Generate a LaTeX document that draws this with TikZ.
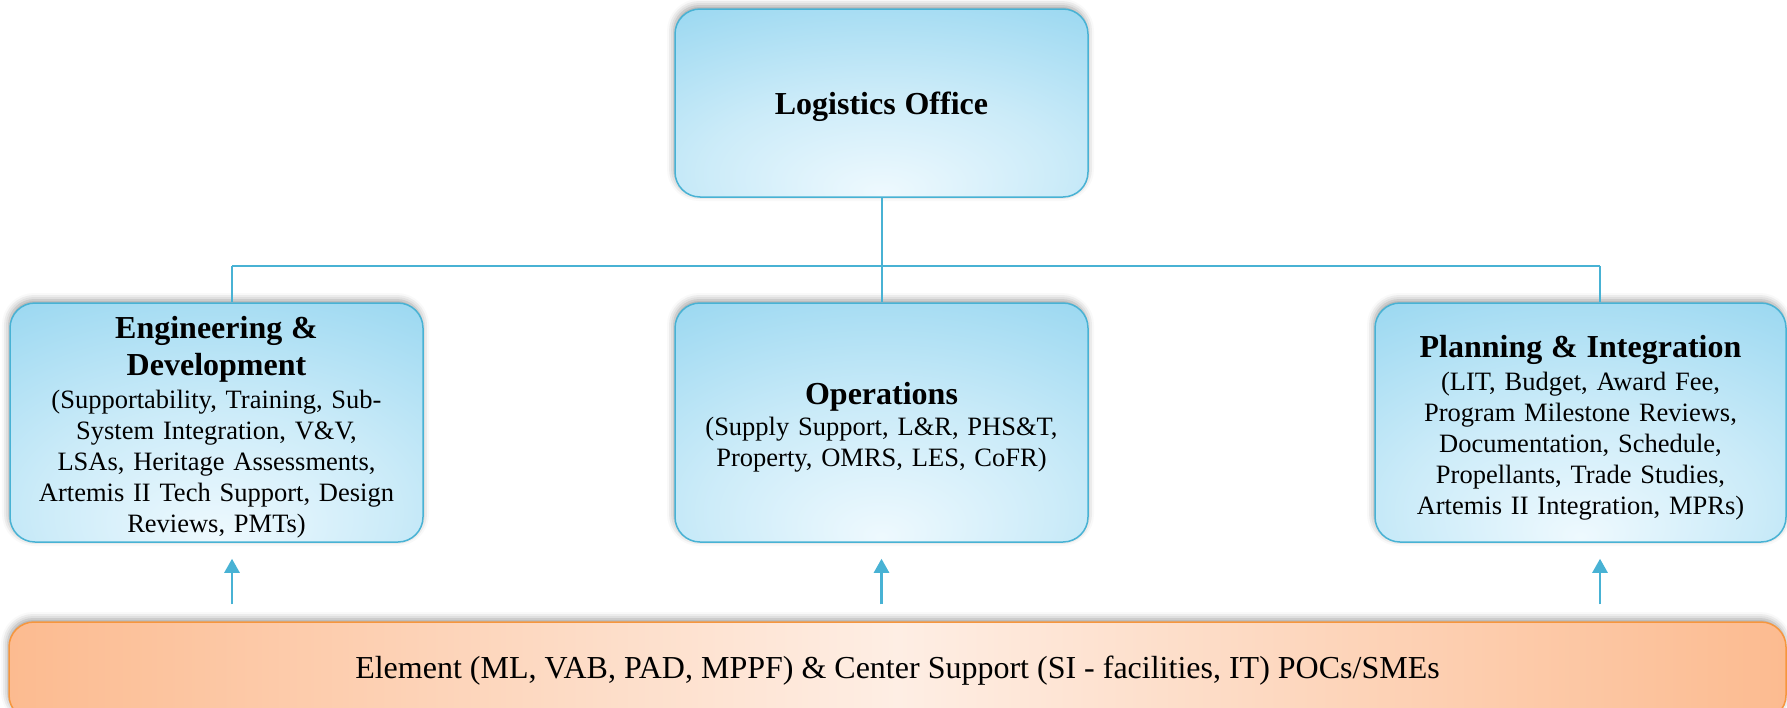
\documentclass[tikz,border=0pt]{standalone}
\usepackage{fontspec}
\setmainfont{Liberation Serif}
\usetikzlibrary{arrows.meta,shadows.blur}

\definecolor{boxout}{RGB}{150,214,240}
\definecolor{boxin}{RGB}{238,249,254}
\definecolor{boxline}{RGB}{72,178,212}
\definecolor{barout}{RGB}{252,187,144}
\definecolor{barin}{RGB}{254,238,228}
\definecolor{barline}{RGB}{246,150,62}

\pgfdeclareradialshading{boxglow}{\pgfpoint{0bp}{-24bp}}{color(0bp)=(boxin); color(22bp)=(boxin!60!boxout); color(48bp)=(boxout); color(100bp)=(boxout)}
\newcommand\headfont{\fontsize{32}{37}\selectfont\bfseries}

\tikzset{
  box/.style={draw=boxline, line width=1.5pt, rounded corners=25pt, shading=boxglow,
    minimum width=413pt, minimum height=239pt, inner sep=0pt, text width=400pt, align=center,
    font=\fontsize{26.5}{31}\selectfont, execute at end node={\par\vspace{-10pt}},
    blur shadow={shadow xshift=-1pt, shadow yshift=3pt, shadow blur radius=7pt, shadow opacity=40}},
  bar/.style={draw=barline, line width=1.5pt, rounded corners=25pt,
    left color=barout, right color=barout, middle color=barin,
    minimum width=1777pt, minimum height=98pt, inner sep=0pt,
    font=\fontsize{32}{38}\selectfont,
    blur shadow={shadow xshift=-1pt, shadow yshift=3pt, shadow blur radius=7pt, shadow opacity=40}},
  link/.style={draw=boxline, line width=2pt},
  feed/.style={draw=boxline, line width=2.5pt, -{Triangle[width=15pt,length=14pt]}}
}

\begin{document}
\begin{tikzpicture}[x=1pt, y=-1pt]
  %%%%% START %%%%%
  \useasboundingbox (0,0) rectangle (1787,707);
  \clip (0,0) rectangle (1787,707);

  \node[box, minimum height=188pt] (office) at (881.5,103) {\headfont Logistics Office};

  \node[box] (eng) at (216.5,422.5) {{\headfont Engineering \&\\ Development\par}\vspace{2pt}
    (Supportability, Training, Sub-\\ System Integration, V\&V,\\ LSAs, Heritage Assessments,\\
    Artemis II Tech Support, Design\\ Reviews, PMTs)};
  \node[box] (ops) at (881.5,422.5) {{\headfont Operations\par}
    (Supply Support, L\&R, PHS\&T,\\ Property, OMRS, LES, CoFR)};
  \node[box, minimum width=411pt] (plan) at (1580.5,422.5) {{\headfont Planning \& Integration\par}\vspace{2pt}
    (LIT, Budget, Award Fee,\\ Program Milestone Reviews,\\ Documentation, Schedule,\\
    Propellants, Trade Studies,\\ Artemis II Integration, MPRs)};

  \node[bar] (pocs) at (897.5,671) {Element (ML, VAB, PAD, MPPF) \& Center Support (SI - facilities, IT) POCs/SMEs};

  % tree lines
  \coordinate (split) at (881.5,266);
  \coordinate (engtap) at (232,266);
  \coordinate (plantap) at (1600,266);
  \draw[link] (office.south) -- (split);
  \draw[link] (engtap) -- (plantap);
  \draw[link] (engtap) -- (engtap |- eng.north);
  \draw[link] (split) -- (ops.north);
  \draw[link] (plantap) -- (plantap |- plan.north);

  % support arrows
  \foreach \tap/\grp in {engtap/eng, split/ops, plantap/plan}
    \draw[feed] ([yshift=17pt]\tap |- pocs.north) -- ([yshift=-16pt]\tap |- \grp.south);
  %%%%% END %%%%%
\end{tikzpicture}
\end{document}
